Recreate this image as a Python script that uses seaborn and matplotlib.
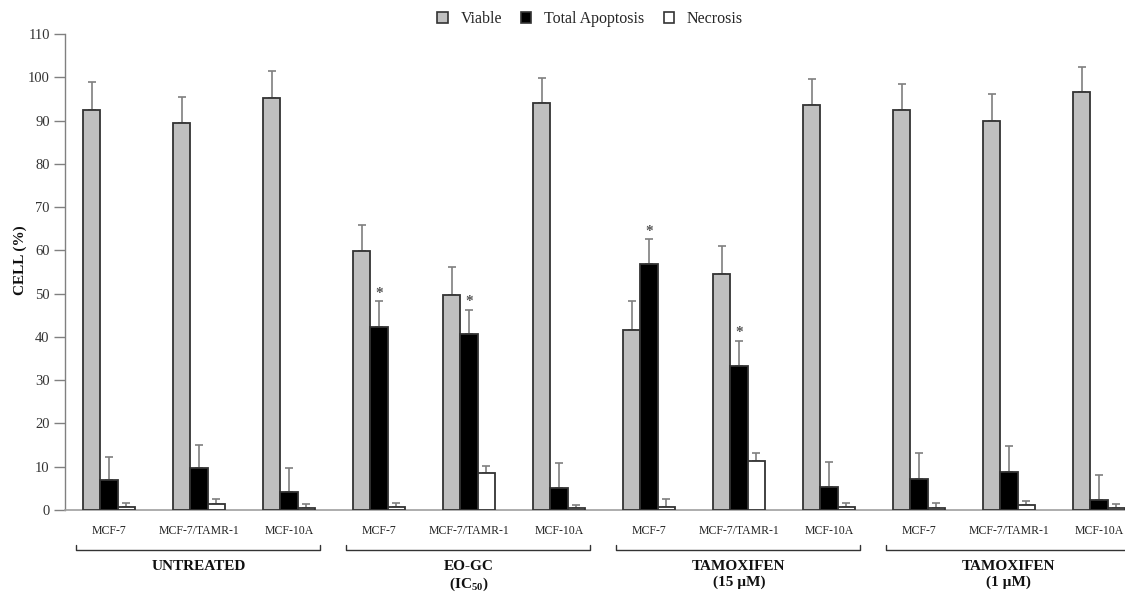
import numpy as np
import pandas as pd
import matplotlib
matplotlib.use("Agg")
import matplotlib.pyplot as plt
import matplotlib.transforms as mtransforms
from matplotlib.patches import Patch
import seaborn as sns

# ---------------- data ----------------
treatments = ["UNTREATED", "EO-GC\n(IC$_\\mathbf{50}$)", "TAMOXIFEN\n(15 µM)", "TAMOXIFEN\n(1 µM)"]
cell_lines = ["MCF-7", "MCF-7/TAMR-1", "MCF-10A"]
series = ["Viable", "Total Apoptosis", "Necrosis"]

viable = [92.5, 89.4, 95.1, 59.8, 49.7, 94.0, 41.6, 54.5, 93.7, 92.4, 89.9, 96.6]
viable_err = [6.5, 6.1, 6.3, 6.0, 6.4, 5.8, 6.7, 6.5, 6.0, 6.1, 6.3, 5.8]
apoptosis = [6.9, 9.6, 4.1, 42.4, 40.7, 5.1, 56.8, 33.2, 5.2, 7.2, 8.8, 2.4]
apoptosis_err = [5.4, 5.4, 5.6, 5.9, 5.6, 5.8, 5.8, 5.9, 5.8, 5.9, 6.0, 5.6]
necrosis = [0.6, 1.3, 0.5, 0.6, 8.6, 0.5, 0.8, 11.4, 0.6, 0.5, 1.1, 0.4]
necrosis_err = [1.0, 1.2, 0.8, 1.0, 1.6, 0.7, 1.7, 1.7, 1.0, 1.1, 0.9, 1.0]
apoptosis_sig = [False, False, False, True, True, False, True, True, False, False, False, False]

colors = ["#c0c0c0", "#000000", "#ffffff"]

# ---------------- style ----------------
sns.set_theme(style="white")
plt.rcParams["font.family"] = ["Liberation Serif", "DejaVu Serif"]
plt.rcParams["mathtext.fontset"] = "custom"
plt.rcParams["mathtext.rm"] = "Liberation Serif"
plt.rcParams["mathtext.bf"] = "Liberation Serif:bold"

# ---------------- dataframe ----------------
keys = [f"{t}|{c}" for t in treatments for c in cell_lines]
rows = []
for vals, name in zip([viable, apoptosis, necrosis], series):
    for k, v in zip(keys, vals):
        rows.append({"Group": k, "Type": name, "Value": v})
df = pd.DataFrame(rows)

fig = plt.figure(figsize=(11.25, 5.92), dpi=100)
ax = fig.add_axes([65 / 1125, 1 - 510 / 592, 1060 / 1125, 476 / 592])

sns.barplot(data=df, x="Group", y="Value", hue="Type", order=keys, hue_order=series,
            palette=colors, width=0.58, edgecolor="#333333", linewidth=1.3,
            errorbar=None, legend=False, ax=ax, zorder=3)

errs = [viable_err, apoptosis_err, necrosis_err]
vals_all = [viable, apoptosis, necrosis]
for cont, err, vals in zip(ax.containers, errs, vals_all):
    xs = [b.get_x() + b.get_width() / 2 for b in cont]
    ax.errorbar(xs, vals, yerr=[np.zeros(len(err)), err], fmt="none",
                ecolor="#7f7f7f", elinewidth=1.2, capsize=3.0, capthick=1.2, zorder=2)

# significance stars on apoptosis bars
cont = ax.containers[1]
for b, v, e, s in zip(cont, apoptosis, apoptosis_err, apoptosis_sig):
    if s:
        ax.annotate("*", (b.get_x() + b.get_width() / 2, v + e), xytext=(0, 1),
                    textcoords="offset points", ha="center", va="bottom",
                    fontsize=11, color="#555555", fontweight="bold")

# axes
ax.set_ylim(0, 110)
ax.set_yticks(np.arange(0, 111, 10))
ax.set_xlim(-0.489, 11.29)
ax.set_xticks(range(len(keys)))
ax.set_xticklabels(cell_lines * len(treatments), fontsize=8.5, color="#222222")
ax.tick_params(axis="x", length=0, pad=11)
ax.tick_params(axis="y", direction="out", length=8, width=1, color="#808080",
               labelsize=10.5, labelcolor="#333333", pad=3, left=True)
for side in ["top", "right"]:
    ax.spines[side].set_visible(False)
ax.spines["left"].set_color("#808080")
ax.spines["bottom"].set_color("#a0a0a0")
ax.spines["left"].set_linewidth(1.0)
ax.spines["bottom"].set_linewidth(1.2)
ax.set_xlabel("")
ax.set_ylabel("CELL (%)", fontsize=11, fontweight="bold", color="#111111")
ax.yaxis.set_label_coords(-0.036, 0.525)
ax.grid(False)

# brackets and group labels
trans = mtransforms.blended_transform_factory(ax.transData, ax.transAxes)
y_line = (510 - 550) / 476
y_tick = (510 - 545) / 476
for i, t in enumerate(treatments):
    x0 = 3 * i - 0.37
    x1 = 3 * i + 2 + 0.35 if i < len(treatments) - 1 else 3 * i + 2 + 0.6
    ax.plot([x0, x0, x1, x1], [y_tick, y_line, y_line, y_tick], color="#333333",
            lw=1.0, transform=trans, clip_on=False)
    ax.text(3 * i + 1, (510 - 560) / 476, t, transform=trans, ha="center", va="top",
            fontsize=11, fontweight="bold", color="#111111", linespacing=1.2)

# legend
handles = [Patch(facecolor=c, edgecolor="#333333", linewidth=1.2) for c in colors]
fig.legend(handles, series, loc="center", bbox_to_anchor=(590 / 1125, 1 - 19 / 592),
           ncol=3, frameon=False, fontsize=11.5, handlelength=0.65, handleheight=0.65,
           handletextpad=0.8, columnspacing=1.2)

fig.savefig("out.png", dpi=100)
